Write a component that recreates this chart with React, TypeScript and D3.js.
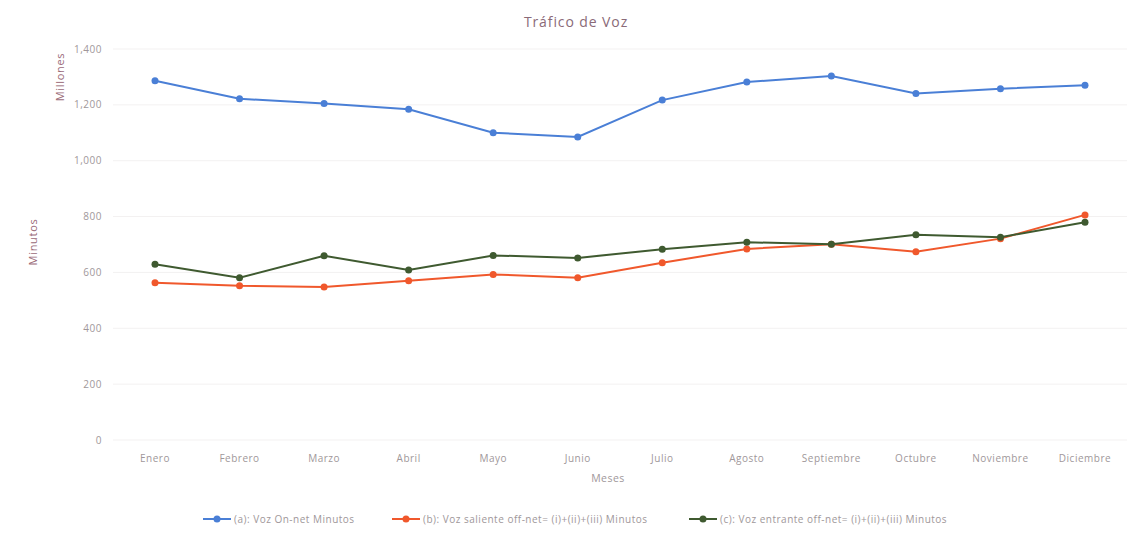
import React, { useRef, useEffect } from "react"
import * as d3 from "d3"

const months = [
  "Enero", "Febrero", "Marzo", "Abril", "Mayo", "Junio",
  "Julio", "Agosto", "Septiembre", "Octubre", "Noviembre", "Diciembre",
]

const onNet = [1286, 1222, 1205, 1184, 1100, 1085, 1217, 1282, 1303, 1241, 1258, 1270]
const salienteOffNet = [563, 552, 548, 570, 593, 581, 635, 684, 701, 674, 721, 806]
const entranteOffNet = [629, 581, 660, 609, 661, 652, 683, 708, 701, 735, 726, 780]

const yTicks = [0, 200, 400, 600, 800, 1000, 1200, 1400]

const seriesNames = [
  "(a): Voz On-net Minutos",
  "(b): Voz saliente off-net= (i)+(ii)+(iii) Minutos",
  "(c): Voz entrante off-net= (i)+(ii)+(iii) Minutos",
]
const seriesColors = ["#4a7fd6", "#f0582c", "#3f5a30"]

const W = 1136
const H = 534
const FONT = "'Open Sans', Lato, sans-serif"
const TEXT = "#a0979a"

export default function App() {
  const ref = useRef<SVGSVGElement>(null)

  useEffect(() => {
    if (!ref.current) return
    const svg = d3.select(ref.current)
    svg.selectAll("*").remove()

    const x = d3.scalePoint<string>().domain(months).range([155, 1085])
    const y = d3.scaleLinear().domain([0, 1400]).range([440, 49])

    // gridlines
    svg
      .append("g")
      .selectAll("line")
      .data(yTicks)
      .join("line")
      .attr("x1", 113)
      .attr("x2", 1127)
      .attr("y1", d => y(d))
      .attr("y2", d => y(d))
      .attr("stroke", "#f3f1f1")
      .attr("stroke-width", 1)

    // y tick labels
    svg
      .append("g")
      .selectAll("text")
      .data(yTicks)
      .join("text")
      .attr("x", 102)
      .attr("y", d => y(d))
      .attr("dy", "0.35em")
      .attr("text-anchor", "end")
      .attr("font-size", 10)
      .attr("letter-spacing", 0.5)
      .attr("font-family", FONT)
      .attr("fill", TEXT)
      .text(d => d3.format(",")(d))

    // x tick labels
    svg
      .append("g")
      .selectAll("text")
      .data(months)
      .join("text")
      .attr("x", d => x(d)!)
      .attr("y", 462)
      .attr("text-anchor", "middle")
      .attr("font-size", 10)
      .attr("letter-spacing", 0.5)
      .attr("font-family", FONT)
      .attr("fill", TEXT)
      .text(d => d)

    // titles
    svg
      .append("text")
      .attr("x", 576)
      .attr("y", 27)
      .attr("text-anchor", "middle")
      .attr("font-size", 14)
      .attr("letter-spacing", 0.9)
      .attr("font-family", FONT)
      .attr("fill", "#8a6a78")
      .text("Tráfico de Voz")

    svg
      .append("text")
      .attr("x", 608)
      .attr("y", 482)
      .attr("text-anchor", "middle")
      .attr("font-size", 10.5)
      .attr("letter-spacing", 0.5)
      .attr("font-family", FONT)
      .attr("fill", TEXT)
      .text("Meses")

    svg
      .append("text")
      .attr("transform", "translate(64,77) rotate(-90)")
      .attr("text-anchor", "middle")
      .attr("font-size", 11)
      .attr("letter-spacing", 0.7)
      .attr("font-family", FONT)
      .attr("fill", "#9a6a78")
      .text("Millones")

    svg
      .append("text")
      .attr("transform", "translate(37,242) rotate(-90)")
      .attr("text-anchor", "middle")
      .attr("font-size", 11)
      .attr("letter-spacing", 0.7)
      .attr("font-family", FONT)
      .attr("fill", "#9a6a78")
      .text("Minutos")

    const line = d3
      .line<number>()
      .x((_, i) => x(months[i])!)
      .y(d => y(d))

    const allSeries = [onNet, salienteOffNet, entranteOffNet]
    allSeries.forEach((values, s) => {
      const g = svg.append("g")
      g.append("path")
        .datum(values)
        .attr("d", line)
        .attr("fill", "none")
        .attr("stroke", seriesColors[s])
        .attr("stroke-width", 2)
      g.selectAll("circle")
        .data(values)
        .join("circle")
        .attr("cx", (_, i) => x(months[i])!)
        .attr("cy", d => y(d))
        .attr("r", 3.5)
        .attr("fill", seriesColors[s])
    })

    // legend
    const legendX = [203, 392, 689]
    seriesNames.forEach((name, s) => {
      const g = svg.append("g").attr("transform", `translate(${legendX[s]},519)`)
      g.append("line")
        .attr("x1", 0)
        .attr("x2", 28)
        .attr("stroke", seriesColors[s])
        .attr("stroke-width", 2)
      g.append("circle").attr("cx", 14).attr("r", 3.5).attr("fill", seriesColors[s])
      g.append("text")
        .attr("x", 31)
        .attr("dy", "0.35em")
        .attr("font-size", 10)
        .attr("letter-spacing", 0.5)
        .attr("font-family", FONT)
        .attr("fill", TEXT)
        .text(name)
    })
  }, [])

  return (
    <svg
      ref={ref}
      width={W}
      height={H}
      style={{ position: "absolute", left: 0, top: 0, background: "#fff" }}
    />
  )
}
